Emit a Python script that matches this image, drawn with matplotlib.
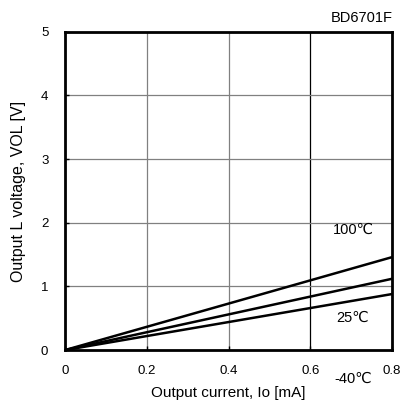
import matplotlib
matplotlib.use("Agg")
import matplotlib.pyplot as plt

plt.rcParams['font.family'] = ['Liberation Sans', 'DejaVu Sans']

# output current [mA]
io = [0.0, 0.2, 0.4, 0.6, 0.8]
# output L voltage [V]
vol_100 = [0.0, 0.365, 0.73, 1.095, 1.46]
vol_25 = [0.0, 0.28, 0.56, 0.84, 1.12]
vol_m40 = [0.0, 0.22, 0.44, 0.66, 0.88]

xticks = [0, 0.2, 0.4, 0.6, 0.8]
yticks = [0, 1, 2, 3, 4, 5]

fig = plt.figure(figsize=(4.14, 4.08), dpi=100)
ax = fig.add_axes([0.157, 0.142, 0.790, 0.780])

for v in (vol_100, vol_25, vol_m40):
    ax.plot(io, v, color='black', lw=1.8, solid_capstyle='butt')

ax.set_xlim(0, 0.8)
ax.set_ylim(0, 5)
ax.set_xticks(xticks)
ax.set_xticklabels(['0', '0.2', '0.4', '0.6', '0.8'])
ax.set_yticks(yticks)
ax.grid(True, color='#808080', lw=0.9)
# the 0.6 gridline is darker in the original
ax.get_xgridlines()[3].set_color('black')
ax.tick_params(direction='in', length=3, width=1, labelsize=9.5)
ax.tick_params(axis='x', pad=11)
ax.tick_params(axis='y', pad=12)
for s in ax.spines.values():
    s.set_linewidth(2)

ax.set_xlabel('Output current, Io [mA]', fontsize=11, labelpad=6)
ax.set_ylabel('Output L voltage, VOL [V]', fontsize=11.5, labelpad=11)

ax.text(0.655, 1.89, '100℃', fontsize=10.5, va='center')
ax.text(0.663, 0.50, '25℃', fontsize=10.5, va='center')
ax.text(0.66, -0.45, '-40℃', fontsize=10.5, va='center')
fig.text(0.949, 0.955, 'BD6701F', fontsize=10.5, ha='right', va='center')

fig.savefig('out.png', dpi=100)
